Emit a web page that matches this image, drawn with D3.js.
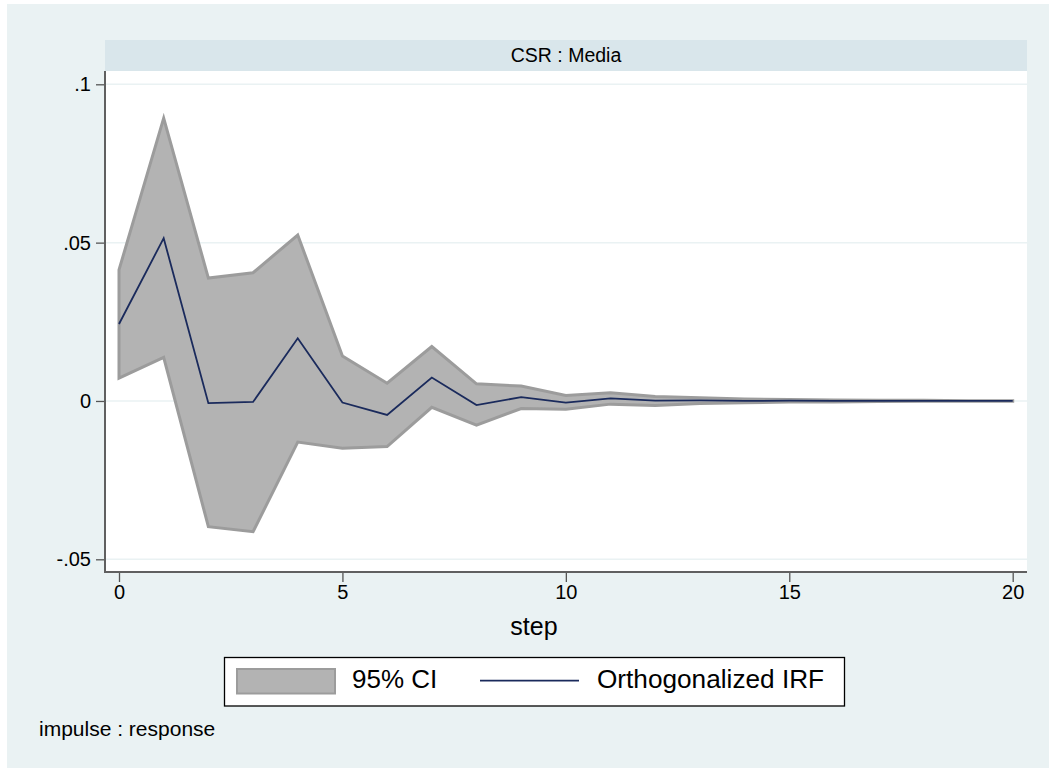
<!DOCTYPE html>
<html><head><meta charset="utf-8">
<script src="https://cdn.jsdelivr.net/npm/d3@7"></script>
<style>body{margin:0;background:#fff}svg{display:block;font-family:"Liberation Sans",Arial,sans-serif}</style>
</head><body>
<svg id="c" width="1049" height="769"></svg>
<script>
const steps = d3.range(0, 21);
const ciUpper = [0.0414,0.0893,0.0388,0.0405,0.0524,0.0142,0.0056,0.0172,0.0054,0.0047,0.0017,0.0026,0.0014,0.0010,0.0006,0.0005,0.0003,0.0002,0.0002,0.0001,0.0001];
const ciLower = [0.0072,0.0138,-0.0397,-0.0413,-0.0130,-0.0149,-0.0144,-0.0020,-0.0076,-0.0024,-0.0026,-0.0010,-0.0014,-0.0008,-0.0006,-0.0003,-0.0003,-0.0002,-0.0001,-0.0001,-0.0001];
const oirf = [0.0243,0.0514,-0.0007,-0.0003,0.0198,-0.0005,-0.0044,0.0074,-0.0013,0.0012,-0.0005,0.0008,0.0001,0.0002,0.0000,0.0001,0.0000,0.0000,0.0000,0.0000,0.0000];
const yTicks = [-0.05, 0, 0.05, 0.1];
const yTickLabels = ["-.05", "0", ".05", ".1"];
const xTicks = [0, 5, 10, 15, 20];
const panelTitle = "CSR : Media";
const xTitle = "step";
const legendLabels = ["95% CI", "Orthogonalized IRF"];
const note = "impulse : response";

const svg = d3.select("#c");
svg.append("rect").attr("x",7).attr("y",4).attr("width",1042).attr("height",764).attr("fill","#eaf2f3");

const plot = {l:105, r:1027, t:71, b:572};
svg.append("rect").attr("x",plot.l).attr("y",40).attr("width",plot.r-plot.l).attr("height",31).attr("fill","#d9e6eb");
svg.append("text").attr("x",(plot.l+plot.r)/2).attr("y",62).attr("text-anchor","middle")
  .attr("font-size",19.5).attr("fill","#000").text(panelTitle);
svg.append("rect").attr("x",plot.l).attr("y",plot.t).attr("width",plot.r-plot.l).attr("height",plot.b-plot.t).attr("fill","#fff");

const x = d3.scaleLinear().domain([0,20]).range([119,1012.7]);
const y = d3.scaleLinear().domain([-0.05,0.1]).range([559.3,84.3]);

// gridlines
svg.append("g").selectAll("line").data(yTicks).join("line")
  .attr("x1",plot.l).attr("x2",plot.r).attr("y1",d=>y(d)).attr("y2",d=>y(d))
  .attr("stroke","#eaf2f3").attr("stroke-width",1.5);

const data = steps.map((s,i)=>({s, lo:ciLower[i], hi:ciUpper[i], v:oirf[i]}));
svg.append("path").datum(data)
  .attr("d", d3.area().x(d=>x(d.s)).y0(d=>y(d.lo)).y1(d=>y(d.hi)))
  .attr("fill","#b3b3b3").attr("stroke","#9c9c9c").attr("stroke-width",3).attr("stroke-linejoin","miter");
svg.append("path").datum(data)
  .attr("d", d3.line().x(d=>x(d.s)).y(d=>y(d.v)))
  .attr("fill","none").attr("stroke","#1a2a5c").attr("stroke-width",1.8);

// axes
const yAxis = d3.axisLeft(y).tickValues(yTicks).tickFormat((d,i)=>yTickLabels[i]).tickSize(9).tickPadding(5);
const gy = svg.append("g").attr("transform",`translate(${plot.l},0)`).call(yAxis);
gy.select(".domain").remove();
gy.selectAll(".tick line").attr("stroke","#555").attr("stroke-width",1.3);
gy.selectAll(".tick text").attr("font-size",20).attr("fill","#000").attr("font-family","Liberation Sans, Arial, sans-serif");
svg.append("line").attr("x1",plot.l).attr("x2",plot.l).attr("y1",plot.t).attr("y2",plot.b+1).attr("stroke","#606060").attr("stroke-width",2);

const xAxis = d3.axisBottom(x).tickValues(xTicks).tickFormat(d3.format("d")).tickSize(9).tickPadding(3);
const gx = svg.append("g").attr("transform",`translate(0,${plot.b+1})`).call(xAxis);
gx.select(".domain").remove();
gx.selectAll(".tick line").attr("stroke","#555").attr("stroke-width",1.3);
gx.selectAll(".tick text").attr("font-size",20).attr("fill","#000").attr("font-family","Liberation Sans, Arial, sans-serif");
svg.append("line").attr("x1",plot.l-1).attr("x2",plot.r).attr("y1",plot.b).attr("y2",plot.b).attr("stroke","#606060").attr("stroke-width",2);

svg.append("text").attr("x",534).attr("y",635).attr("text-anchor","middle").attr("font-size",25).attr("fill","#000").text(xTitle);

// legend
svg.append("rect").attr("x",224.5).attr("y",657.5).attr("width",620).attr("height",48.5).attr("fill","#fff").attr("stroke","#000").attr("stroke-width",1.3);
svg.append("rect").attr("x",237).attr("y",669).attr("width",98).attr("height",24.5).attr("fill","#b3b3b3").attr("stroke","#9c9c9c").attr("stroke-width",2);
svg.append("text").attr("x",352).attr("y",687.5).attr("font-size",26).attr("fill","#000").text(legendLabels[0]);
svg.append("line").attr("x1",480).attr("x2",579).attr("y1",680.7).attr("y2",680.7).attr("stroke","#1a2a5c").attr("stroke-width",1.8);
svg.append("text").attr("x",597).attr("y",687.5).attr("font-size",26.2).attr("fill","#000").text(legendLabels[1]);

svg.append("text").attr("x",39).attr("y",736).attr("font-size",21).attr("fill","#000").text(note);
</script>
</body></html>
